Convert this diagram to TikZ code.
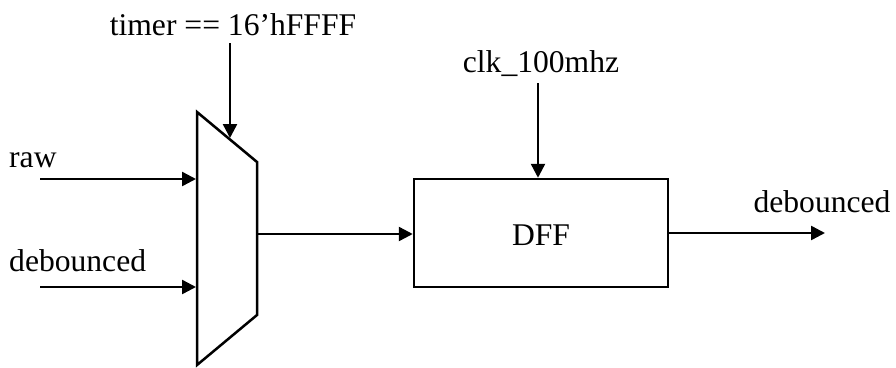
\documentclass[tikz,border=0pt]{standalone}
\usepackage{fontspec}
\setmainfont{Liberation Serif}
\usetikzlibrary{arrows.meta}
\begin{document}
\begin{tikzpicture}[x=1pt,y=-1pt,
  wire/.style={line width=2.5pt,-{Triangle[length=14pt,width=14pt]}},
  lbl/.style={font=\fontsize{31.6}{36}\selectfont,inner sep=0pt,anchor=base},
  blk/.style={draw,line width=2.5pt,minimum width=254pt,minimum height=108pt,inner sep=0pt}]
\useasboundingbox (0,0) rectangle (896,367);
% mux
\coordinate (mtl) at (197,112);
\coordinate (mtr) at (257,162);
\coordinate (mbr) at (257,315);
\coordinate (mbl) at (197,365);
\draw[line width=2.5pt,line join=miter] (mtl) -- (mtr) -- (mbr) -- (mbl) -- cycle;
\coordinate (min1) at (196,179);
\coordinate (min2) at (196,287);
\coordinate (msel) at (230,138);
\coordinate (mout) at (257,234);
% DFF
\node[blk,lbl,anchor=center] (dff) at (541,233) {};
\node[lbl] (dfft) at (541,245) {DFF};
% labels
\node[lbl] (timer) at (233,35) {timer == 16’hFFFF};
\node[lbl] (clk) at (541,72) {clk\_100mhz};
\node[lbl,anchor=base west] (raw) at (9,167) {raw};
\node[lbl,anchor=base west] (deb) at (9,271) {debounced};
\node[lbl] (debo) at (822,212) {debounced};
% free ends
\coordinate (rawst) at (40,179);
\coordinate (debst) at (40,287);
\coordinate (selst) at (230,43);
\coordinate (clkst) at (538,83);
\coordinate (outend) at (825,233);
% connectors
\draw[wire] (rawst) -- (min1);
\draw[wire] (debst) -- (min2);
\draw[wire] (selst) -- (msel);
\draw[wire] (mout) -- (dff.west |- mout);
\draw[wire] (clkst) -- (clkst |- dff.north);
\draw[wire] (dff.east |- outend) -- (outend);
\end{tikzpicture}
\end{document}
